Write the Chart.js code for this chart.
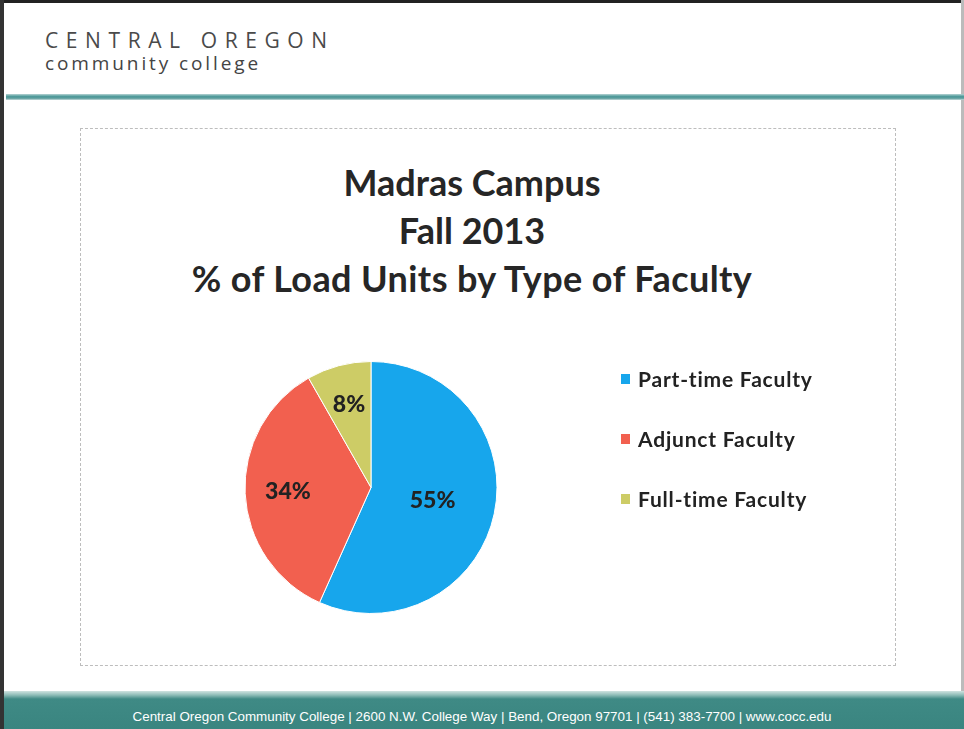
<!DOCTYPE html>
<html>
<head>
<meta charset="utf-8">
<script src="https://cdn.jsdelivr.net/npm/chart.js@4.4.1/dist/chart.umd.min.js"></script>
<style>
  html,body{margin:0;padding:0;background:#fff;}
  #page{position:relative;width:964px;height:729px;overflow:hidden;background:#fff;}
  #edgeTop{position:absolute;left:0;top:0;width:964px;height:3px;background:#222;}
  #edgeLeft{position:absolute;left:0;top:0;width:4px;height:729px;background:#333;}
  #edgeRight{position:absolute;right:0;top:0;width:3px;height:729px;background:#bbb;}
  #h1{position:absolute;left:45px;top:26px;font-family:"Open Sans",sans-serif;font-size:21px;letter-spacing:7.6px;color:#4a4a4a;}
  #h2{position:absolute;left:45px;top:50px;font-family:"Open Sans",sans-serif;font-size:19px;letter-spacing:2.9px;color:#444;}
  #tealLine{position:absolute;left:6px;top:94px;width:958px;height:6px;background:linear-gradient(#b8d4d4,#4f9a9a 40%,#5a9c9c 70%,#c8dcdc);}
  #box{position:absolute;left:80px;top:128px;width:814px;height:536px;border:1px dashed #bdbdbd;}
  #title{position:absolute;left:64px;top:158px;width:816px;text-align:center;font-family:Lato,sans-serif;font-weight:bold;font-size:36px;line-height:48px;color:#262626;}
  #title div:last-child{letter-spacing:0.4px;}
  #footer{position:absolute;left:4px;top:691px;width:960px;height:38px;background:linear-gradient(#cfe3e0 0px,#8fbdb8 4px,#3f8a85 8px,#3a8580 100%);}
  #ftext{position:absolute;left:0;top:709px;width:964px;text-align:center;font-family:"Liberation Sans",Arial,sans-serif;font-size:13px;color:#fff;transform:scaleX(1.03);}
  #c{position:absolute;left:80px;top:128px;}
</style>
</head>
<body>
<div id="page">
  <div id="edgeTop"></div><div id="edgeLeft"></div><div id="edgeRight"></div>
  <div id="h1">CENTRAL OREGON</div>
  <div id="h2">community college</div>
  <div id="tealLine"></div>
  <div id="box"></div>
  <div id="title"></div>
  <div id="footer"></div>
  <div id="ftext">Central Oregon Community College | 2600 N.W. College Way | Bend, Oregon 97701 | (541) 383-7700 | www.cocc.edu</div>
  <canvas id="c" width="815" height="537"></canvas>
</div>
<script>
const titleLines = ["Madras Campus", "Fall 2013", "% of Load Units by Type of Faculty"];
const categories = ["Part-time Faculty", "Adjunct Faculty", "Full-time Faculty"];
const shares = [55, 34, 8];
const valueLabels = ["55%", "34%", "8%"];
const colors = ["#17a6ec", "#f2604f", "#cdcc66"];

const titleEl = document.getElementById('title');
titleLines.forEach(t => { const d = document.createElement('div'); d.textContent = t; titleEl.appendChild(d); });

const sliceLabels = {
  id: 'sliceLabels',
  afterDatasetsDraw(chart) {
    const ctx = chart.ctx;
    const meta = chart.getDatasetMeta(0);
    const factors = [0.5, 0.66, 0.68];
    ctx.save();
    ctx.font = "900 23px Lato, sans-serif";
    ctx.fillStyle = "#222";
    ctx.textAlign = "center";
    ctx.textBaseline = "middle";
    meta.data.forEach((arc, i) => {
      const p = arc.getProps(['x','y','startAngle','endAngle','outerRadius'], true);
      const a = (p.startAngle + p.endAngle) / 2;
      const r = p.outerRadius * factors[i];
      ctx.fillText(valueLabels[i], p.x + Math.cos(a) * r, p.y + Math.sin(a) * r);
    });
    ctx.restore();
  }
};

const sideLegend = {
  id: 'sideLegend',
  afterDraw(chart) {
    const ctx = chart.ctx;
    const ds = chart.data.datasets[0];
    const x0 = 541, y0 = 252, step = 60;
    ctx.save();
    ctx.font = "bold 21px Lato, sans-serif";
    if ('letterSpacing' in ctx) ctx.letterSpacing = "0.8px";
    ctx.textBaseline = "middle";
    ctx.textAlign = "left";
    chart.data.labels.forEach((lab, i) => {
      const y = y0 + i * step;
      ctx.fillStyle = ds.backgroundColor[i];
      ctx.fillRect(x0, y - 6, 9, 10);
      ctx.fillStyle = "#222";
      ctx.fillText(lab, x0 + 17, y);
    });
    ctx.restore();
  }
};

new Chart(document.getElementById('c'), {
  type: 'pie',
  data: {
    labels: categories,
    datasets: [{
      data: shares,
      backgroundColor: colors,
      borderColor: "#ffffff",
      borderWidth: 1
    }]
  },
  options: {
    responsive: false,
    animation: false,
    layout: { padding: { left: 164, right: 397, top: 233, bottom: 51 } },
    plugins: {
      legend: { display: false },
      tooltip: { enabled: false },
      title: { display: false }
    }
  },
  plugins: [sliceLabels, sideLegend]
});
</script>
</body>
</html>
